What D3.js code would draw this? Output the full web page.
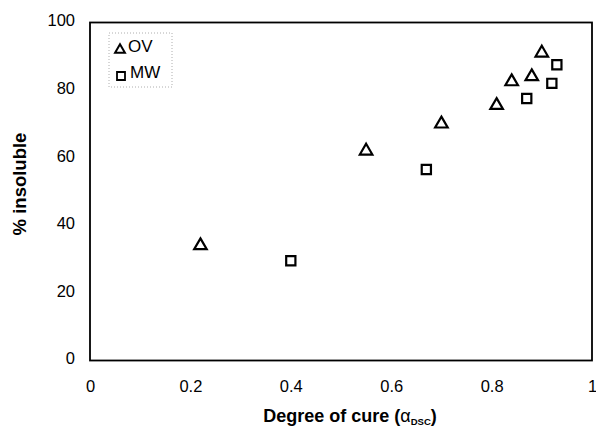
<!DOCTYPE html>
<html><head><meta charset="utf-8">
<script src="https://cdn.jsdelivr.net/npm/d3@7"></script>
<style>body{margin:0;background:#fff}svg{display:block}text{font-family:Arial,"Liberation Sans",sans-serif}</style>
</head><body>
<script>
const ovX = [0.22, 0.55, 0.70, 0.81, 0.84, 0.88, 0.90];
const ovY = [34, 62, 70, 75.5, 82.5, 84, 91];
const mwX = [0.40, 0.67, 0.87, 0.92, 0.93];
const mwY = [29.5, 56.5, 77.5, 82, 87.5];
const xTicks = [0, 0.2, 0.4, 0.6, 0.8, 1];
const yTicks = [0, 20, 40, 60, 80, 100];

const W = 596, H = 428;
const m = {l: 90, t: 22.5, r: 4, b: 67.5};
const svg = d3.select("body").append("svg").attr("width", W).attr("height", H);
const x = d3.scaleLinear().domain([0, 1]).range([m.l, W - m.r]);
const y = d3.scaleLinear().domain([0, 100]).range([H - m.b, m.t]);

// frame
svg.append("rect").attr("x", x(0)).attr("y", y(100)).attr("width", x(1) - x(0)).attr("height", y(0) - y(100))
  .attr("fill", "none").attr("stroke", "#000").attr("stroke-width", 1.8);

// axes (labels only)
const xa = svg.append("g").attr("transform", `translate(0,${y(0)})`)
  .call(d3.axisBottom(x).tickValues(xTicks).tickFormat(d3.format("")).tickSize(0).tickPadding(20));
xa.select(".domain").remove();
xa.selectAll("text").attr("font-size", 16.5).attr("fill", "#000");
const ya = svg.append("g").attr("transform", `translate(${x(0)},0)`)
  .call(d3.axisLeft(y).tickValues(yTicks).tickSize(0).tickPadding(15));
ya.select(".domain").remove();
ya.selectAll("text").attr("font-size", 16.5).attr("fill", "#000").attr("dy", "0.2em");

// axis titles
const xt = svg.append("text").attr("x", 350).attr("y", 422).attr("text-anchor", "middle")
  .attr("font-size", 18).attr("font-weight", "bold");
xt.append("tspan").text("Degree of cure (");
xt.append("tspan").attr("font-weight", "normal").text("α");
xt.append("tspan").attr("font-size", 9.5).attr("dy", 3).text("DSC");
xt.append("tspan").attr("dy", -3).text(")");
svg.append("text").attr("transform", `translate(26,184) rotate(-90)`).attr("text-anchor", "middle")
  .attr("font-size", 18.5).attr("font-weight", "bold").text("% insoluble");

const tri = d3.symbol().type(d3.symbolTriangle).size(68);
const sq = d3.symbol().type(d3.symbolSquare).size(85);
const ov = ovX.map((v, i) => [v, ovY[i]]);
const mw = mwX.map((v, i) => [v, mwY[i]]);
svg.append("g").selectAll("path").data(ov).join("path")
  .attr("d", tri).attr("transform", d => `translate(${x(d[0])},${y(d[1])})`)
  .attr("fill", "none").attr("stroke", "#000").attr("stroke-width", 2.2);
svg.append("g").selectAll("path").data(mw).join("path")
  .attr("d", sq).attr("transform", d => `translate(${x(d[0])},${y(d[1])})`)
  .attr("fill", "none").attr("stroke", "#000").attr("stroke-width", 2.2);

// legend
const lg = svg.append("g");
lg.append("rect").attr("x", 109).attr("y", 33).attr("width", 63).attr("height", 54)
  .attr("fill", "none").attr("stroke", "#999").attr("stroke-width", 0.8).attr("stroke-dasharray", "1,2");
lg.append("path").attr("d", d3.symbol().type(d3.symbolTriangle).size(42)).attr("transform", "translate(120,50)")
  .attr("fill", "none").attr("stroke", "#000").attr("stroke-width", 2);
lg.append("text").attr("x", 128).attr("y", 52).attr("font-size", 17).text("OV");
lg.append("path").attr("d", d3.symbol().type(d3.symbolSquare).size(64)).attr("transform", "translate(121,76)")
  .attr("fill", "none").attr("stroke", "#000").attr("stroke-width", 1.8);
lg.append("text").attr("x", 130).attr("y", 78).attr("font-size", 17).text("MW");
</script>
</body></html>
